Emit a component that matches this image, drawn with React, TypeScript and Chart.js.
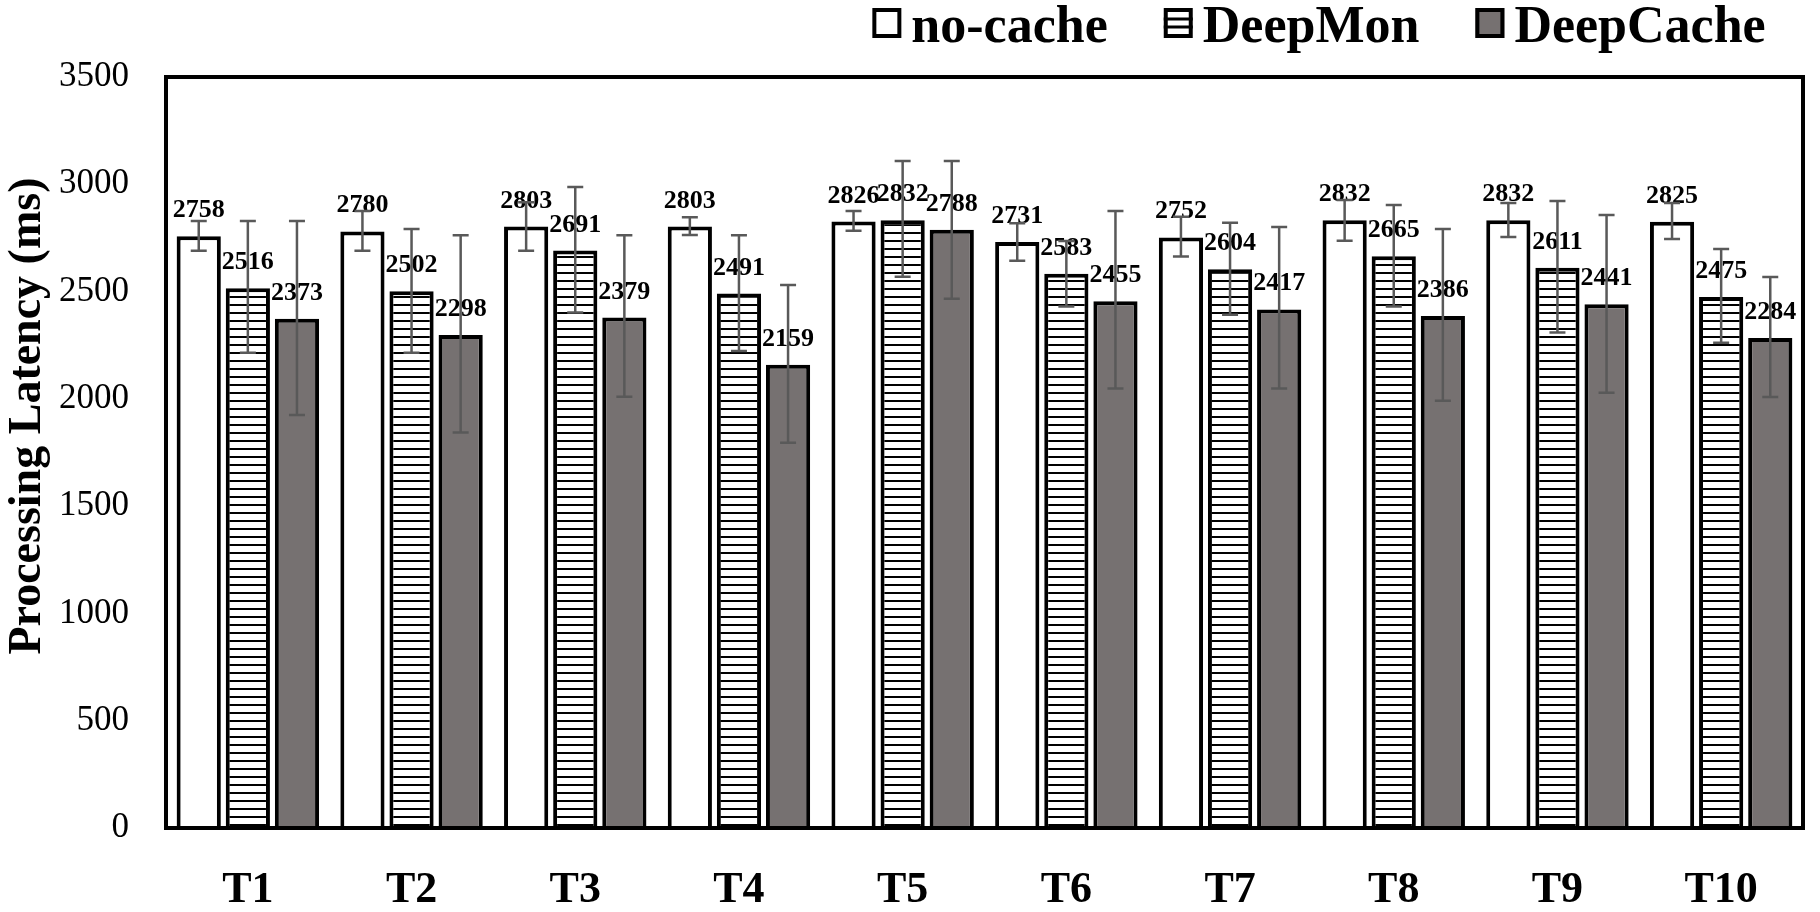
import { useEffect, useRef } from "react";
import { Chart, registerables } from "chart.js";

Chart.register(...registerables);

const categories = ["T1", "T2", "T3", "T4", "T5", "T6", "T7", "T8", "T9", "T10"];
const seriesNames = ["no-cache", "DeepMon", "DeepCache"];

const noCache = [2758, 2780, 2803, 2803, 2826, 2731, 2752, 2832, 2832, 2825];
const deepMon = [2516, 2502, 2691, 2491, 2832, 2583, 2604, 2665, 2611, 2475];
const deepCache = [2373, 2298, 2379, 2159, 2788, 2455, 2417, 2386, 2441, 2284];

// error bar ends
const noCacheHi = [2829, 2876, 2916, 2846, 2876, 2818, 2849, 2927, 2913, 2913];
const noCacheLo = [2690, 2690, 2690, 2764, 2784, 2644, 2663, 2737, 2754, 2745];
const deepMonHi = [2829, 2792, 2987, 2762, 3109, 2736, 2821, 2903, 2922, 2698];
const deepMonLo = [2215, 2215, 2402, 2223, 2569, 2430, 2392, 2430, 2309, 2262];
const deepCacheHi = [2829, 2762, 2762, 2531, 3109, 2876, 2801, 2792, 2857, 2568];
const deepCacheLo = [1925, 1843, 2010, 1796, 2467, 2048, 2048, 1991, 2029, 2009];

const yTicks = [0, 500, 1000, 1500, 2000, 2500, 3000, 3500];

const errHi = [noCacheHi, deepMonHi, deepCacheHi];
const errLo = [noCacheLo, deepMonLo, deepCacheLo];

const FONT = '"Liberation Serif", "Times New Roman", serif';
const GRAY = "#767171";

const makeStripes = (): CanvasPattern | string => {
  const c = document.createElement("canvas");
  c.width = 8;
  c.height = 8;
  const g = c.getContext("2d");
  if (!g) return "#fff";
  g.fillStyle = "#fff";
  g.fillRect(0, 0, 8, 8);
  g.fillStyle = "#000";
  g.fillRect(0, 0, 8, 2);
  return g.createPattern(c, "repeat") || "#fff";
};

const extras = {
  id: "extras",
  afterDatasetsDraw(chart: any) {
    const { ctx, chartArea, scales } = chart;
    const y = scales.y;
    ctx.save();

    // box round the plot
    ctx.strokeStyle = "#000";
    ctx.lineWidth = 4;
    ctx.strokeRect(
      chartArea.left,
      chartArea.top,
      chartArea.right - chartArea.left,
      chartArea.bottom - chartArea.top
    );

    // value labels
    ctx.font = `bold 26px ${FONT}`;
    ctx.fillStyle = "#000";
    ctx.textAlign = "center";
    ctx.textBaseline = "alphabetic";
    chart.data.datasets.forEach((ds: any, di: number) => {
      const meta = chart.getDatasetMeta(di);
      meta.data.forEach((bar: any, i: number) => {
        ctx.fillText(String(ds.data[i]), bar.x, bar.y - 19);
      });
    });

    // error bars
    ctx.strokeStyle = "#595959";
    ctx.lineWidth = 2.5;
    chart.data.datasets.forEach((_ds: any, di: number) => {
      const meta = chart.getDatasetMeta(di);
      meta.data.forEach((bar: any, i: number) => {
        const top = y.getPixelForValue(errHi[di][i]);
        const bot = y.getPixelForValue(errLo[di][i]);
        ctx.beginPath();
        ctx.moveTo(bar.x, top);
        ctx.lineTo(bar.x, bot);
        ctx.moveTo(bar.x - 8, top);
        ctx.lineTo(bar.x + 8, top);
        ctx.moveTo(bar.x - 8, bot);
        ctx.lineTo(bar.x + 8, bot);
        ctx.stroke();
      });
    });
    ctx.restore();
  },
  afterDraw(chart: any) {
    const { ctx, chartArea } = chart;
    ctx.save();

    // y axis title
    ctx.translate(28, 416);
    ctx.rotate(-Math.PI / 2);
    ctx.font = `bold 46px ${FONT}`;
    ctx.fillStyle = "#000";
    ctx.textAlign = "center";
    ctx.textBaseline = "middle";
    ctx.fillText("Processing Latency (ms)", 0, 0);
    ctx.restore();

    // legend
    ctx.save();
    ctx.font = `bold 52px ${FONT}`;
    ctx.textBaseline = "alphabetic";
    ctx.textAlign = "left";
    const bw = 29;
    const bh = 30;
    const gapIn = 10;
    const gapOut = 56;
    const widths = seriesNames.map((n) => ctx.measureText(n).width);
    const total =
      widths.reduce((a, b) => a + b, 0) + seriesNames.length * (bw + gapIn) + gapOut * (seriesNames.length - 1);
    let x = 1319 - total / 2 + (chartArea.right - 1803);
    seriesNames.forEach((name, i) => {
      const top = 8;
      ctx.fillStyle = i === 2 ? GRAY : "#fff";
      ctx.fillRect(x, top, bw, bh);
      ctx.strokeStyle = "#000";
      if (i === 1) {
        ctx.lineWidth = 3;
        ctx.beginPath();
        ctx.moveTo(x, top + bh / 3 + 1);
        ctx.lineTo(x + bw, top + bh / 3 + 1);
        ctx.moveTo(x, top + (2 * bh) / 3 - 1);
        ctx.lineTo(x + bw, top + (2 * bh) / 3 - 1);
        ctx.stroke();
      }
      ctx.lineWidth = 4;
      ctx.strokeRect(x + 2, top + 2, bw - 4, bh - 4);
      x += bw + gapIn;
      ctx.fillStyle = "#000";
      ctx.fillText(name, x, 42);
      x += widths[i] + gapOut;
    });
    ctx.restore();
  },
};

export default function App() {
  const canvasRef = useRef<HTMLCanvasElement>(null);

  useEffect(() => {
    document.body.style.margin = "0";
    let chart: Chart | null = null;
    if (canvasRef.current) {
      const stripes = makeStripes();
      const common = {
        borderColor: "#000",
        borderWidth: 4,
        borderSkipped: "start" as const,
        categoryPercentage: 0.9,
        barPercentage: 0.9,
      };
      chart = new Chart(canvasRef.current, {
        type: "bar",
        data: {
          labels: categories,
          datasets: [
            { label: seriesNames[0], data: noCache, backgroundColor: "#fff", ...common },
            { label: seriesNames[1], data: deepMon, backgroundColor: stripes as any, ...common },
            { label: seriesNames[2], data: deepCache, backgroundColor: GRAY, ...common },
          ],
        },
        options: {
          animation: false,
          responsive: true,
          maintainAspectRatio: false,
          layout: { padding: { top: 77, right: 17, left: 0, bottom: 0 } },
          plugins: {
            legend: { display: false },
            tooltip: { enabled: false },
          },
          scales: {
            x: {
              grid: { display: false },
              border: { display: false },
              ticks: {
                color: "#000",
                padding: 28,
                font: { family: FONT, size: 44, weight: "bold" },
              },
              afterFit: (s: any) => {
                s.height = 84;
              },
            },
            y: {
              min: 0,
              max: 3500,
              grid: { display: false },
              border: { display: false },
              afterBuildTicks: (s: any) => {
                s.ticks = yTicks.map((v) => ({ value: v }));
              },
              ticks: {
                color: "#000",
                padding: 29,
                font: { family: FONT, size: 35 },
                callback: (v: any) => String(v),
              },
              afterFit: (s: any) => {
                s.width = 166;
              },
            },
          },
        },
        plugins: [extras],
      });
    }
    return () => {
      if (chart) chart.destroy();
    };
  }, []);

  return (
    <div style={{ width: 1820, height: 912, background: "#fff" }}>
      <canvas ref={canvasRef}></canvas>
    </div>
  );
}
